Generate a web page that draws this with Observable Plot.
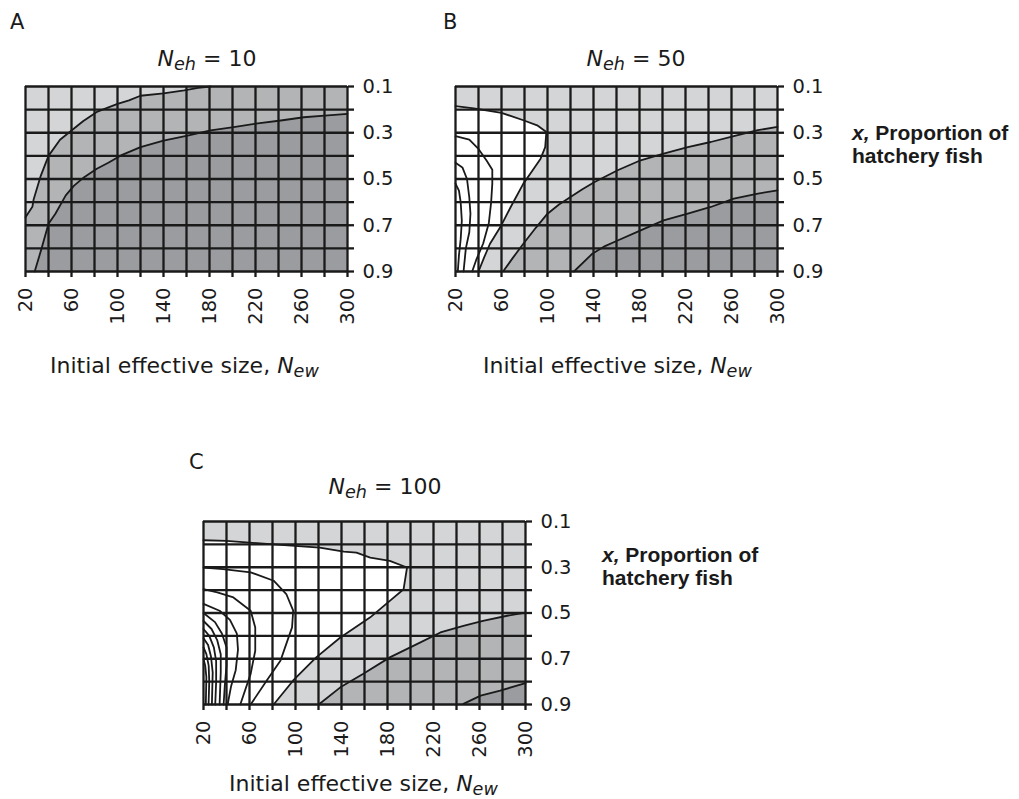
<!DOCTYPE html>
<html><head><meta charset="utf-8">
<script src="https://cdn.jsdelivr.net/npm/d3@7"></script>
<script src="https://cdn.jsdelivr.net/npm/@observablehq/plot@0.6"></script>
<style>
body{margin:0;background:#fff;width:1019px;height:799px;position:relative;overflow:hidden;font-family:"DejaVu Sans",sans-serif;color:#1a1a1a}
.t{position:absolute;white-space:nowrap;line-height:1;z-index:2}
.c{text-align:center}
.p{position:absolute;z-index:1}
.t sub{font-size:0.8em;vertical-align:-0.25em;line-height:0}
.r{font-family:"Liberation Sans",sans-serif;font-weight:bold;font-size:21px}
</style></head><body>
<div id="pa" class="p" style="left:0;top:70px"></div>
<div id="pb" class="p" style="left:430px;top:70px"></div>
<div id="pc" class="p" style="left:178px;top:505px"></div>

<div class="t" style="left:10px;top:12px;font-size:21px">A</div>
<div class="t" style="left:443px;top:12px;font-size:21px">B</div>
<div class="t" style="left:189px;top:452px;font-size:21px">C</div>

<div class="t c" style="left:107px;width:200px;top:48px;font-size:22px"><i>N</i><sub><i>eh</i></sub> = 10</div>
<div class="t c" style="left:536px;width:200px;top:48px;font-size:22px"><i>N</i><sub><i>eh</i></sub> = 50</div>
<div class="t c" style="left:285px;width:200px;top:476px;font-size:22px"><i>N</i><sub><i>eh</i></sub> = 100</div>

<div class="t" style="left:50px;top:355px;font-size:22px">Initial effective size, <i>N</i><sub><i>ew</i></sub></div>
<div class="t" style="left:483px;top:355px;font-size:22px">Initial effective size, <i>N</i><sub><i>ew</i></sub></div>
<div class="t" style="left:229px;top:773px;font-size:22px">Initial effective size, <i>N</i><sub><i>ew</i></sub></div>

<div class="t r" style="left:852px;top:122px"><i>x,</i> Proportion of</div>
<div class="t r" style="left:852px;top:145px">hatchery fish</div>
<div class="t r" style="left:602px;top:544px"><i>x,</i> Proportion of</div>
<div class="t r" style="left:602px;top:567px">hatchery fish</div>

<script>
// Axis ticks and labels
const xTicks = [20,40,60,80,100,120,140,160,180,200,220,240,260,280,300];
const xLabels = [20,60,100,140,180,220,260,300];
const yTicks = [0.1,0.2,0.3,0.4,0.5,0.6,0.7,0.8,0.9];
const yLabels = [0.1,0.3,0.5,0.7,0.9];

// Panel A (Neh = 10) contour lines [New, x]
const aContour1 = [[20,0.665],[26,0.62],[27,0.59],[33,0.49],[40,0.40],[50,0.33],[60,0.29],[70,0.25],[82,0.21],[100,0.175],[110,0.16],[120,0.14],[140,0.13],[158,0.117],[170,0.106],[181,0.1]];
const aContour2 = [[28,0.9],[34,0.8],[40,0.694],[46,0.65],[55,0.571],[62,0.53],[71,0.492],[82,0.456],[92,0.43],[103,0.398],[120,0.362],[140,0.334],[161,0.312],[181,0.29],[201,0.276],[222,0.259],[242,0.247],[262,0.233],[283,0.225],[300,0.218]];

// Panel B (Neh = 50)
const bWhite1 = [[20,0.185],[36,0.195],[60,0.214],[79,0.246],[91,0.268],[99,0.297],[98,0.362],[94,0.412],[85,0.477],[79,0.52],[68,0.621],[59,0.708],[50,0.78],[45,0.838],[40,0.9]];
const bWhite2 = [[20,0.315],[32,0.33],[40,0.37],[47,0.42],[52,0.46],[52,0.52],[51,0.6],[49,0.69],[44,0.78],[38,0.85],[34.5,0.9]];
const bWhite3 = [[20,0.43],[26,0.45],[30,0.5],[32,0.58],[33,0.65],[32,0.73],[29,0.8],[27,0.9]];
const bWhite4 = [[20,0.52],[23,0.55],[24.5,0.6],[25.5,0.68],[24.5,0.76],[23,0.83],[22,0.9]];
const bMid = [[62,0.896],[70,0.84],[79,0.78],[90,0.71],[100,0.65],[110,0.61],[120,0.578],[130,0.545],[141,0.513],[161,0.462],[181,0.419],[201,0.39],[222,0.362],[242,0.34],[262,0.315],[283,0.289],[300,0.275]];
const bDark = [[123,0.9],[139,0.823],[150,0.79],[161,0.766],[181,0.722],[201,0.679],[222,0.65],[242,0.621],[262,0.585],[283,0.563],[300,0.549]];

// Panel C (Neh = 100)
const cWhite1 = [[20,0.182],[40,0.185],[81,0.2],[121,0.214],[142,0.232],[153,0.236],[165,0.258],[182,0.272],[197,0.301],[194,0.396],[182,0.447],[165,0.519],[139,0.607],[118,0.694],[98,0.795],[81,0.9]];
const cWhite2 = [[20,0.301],[37,0.308],[61,0.322],[81,0.359],[92,0.417],[98,0.49],[97,0.563],[92,0.635],[87,0.708],[75,0.795],[61,0.9]];
const cWhite3 = [[20,0.396],[32,0.41],[46,0.432],[61,0.49],[65,0.563],[65,0.665],[61,0.766],[52,0.9]];
const cWhite4 = [[20,0.46],[34,0.49],[43,0.53],[49,0.59],[50,0.66],[48,0.75],[44,0.82],[41,0.9]];
const cWhite5 = [[20,0.5],[30,0.54],[36,0.59],[40,0.65],[40,0.73],[38.5,0.82],[37.5,0.9]];
const cWhite6 = [[20,0.535],[27,0.57],[32,0.62],[35,0.68],[35,0.76],[34,0.9]];
const cWhite7 = [[20,0.57],[25,0.6],[29,0.65],[31,0.71],[31,0.8],[30.2,0.9]];
const cWhite8 = [[20,0.61],[24,0.64],[26.5,0.69],[28,0.76],[27.3,0.9]];
const cWhite9 = [[20,0.65],[22.5,0.68],[24.5,0.73],[25,0.8],[24.4,0.9]];
const cWhite10 = [[20,0.7],[21.5,0.73],[22.5,0.78],[22,0.9]];
const cMid = [[121,0.897],[139,0.825],[159,0.766],[182,0.694],[206,0.635],[226,0.585],[246,0.556],[263,0.534],[284,0.512],[300,0.498]];
const cDark = [[246,0.897],[261,0.861],[278,0.839],[300,0.807]];

const LIGHT = "#d4d5d7", MID = "#b3b4b6", DARK = "#9b9c9f", WHITE = "#ffffff";
const INK = "#1a1a1a";

function poly(pts, color) {
  return Plot.line(pts, {x: d => d[0], y: d => d[1], fill: color, stroke: "none", curve: "linear"});
}
function contour(pts) {
  return Plot.line(pts, {x: d => d[0], y: d => d[1], stroke: INK, strokeWidth: 1.8, curve: "linear"});
}

function panel(id, frameH, fills, lines) {
  const p = Plot.plot({
    width: 407, height: 16 + frameH + 64,
    marginLeft: 25, marginTop: 16, marginRight: 60, marginBottom: 64,
    x: {domain: [20, 300]},
    y: {domain: [0.1, 0.9], reverse: true},
    style: {fontFamily: "DejaVu Sans", fontSize: "19.5px", background: "transparent", color: INK, overflow: "visible"},
    marks: [
      Plot.frame({fill: LIGHT, stroke: "none"}),
      ...fills.map(([pts, c]) => poly(pts, c)),
      ...lines.map(contour),
      Plot.ruleX(xTicks, {stroke: INK, strokeWidth: 2.3}),
      Plot.ruleY(yTicks, {stroke: INK, strokeWidth: 2.3}),
      Plot.axisX(xTicks, {anchor: "bottom", tickSize: 6, tickPadding: 10, tickRotate: -90, strokeWidth: 2.3, label: null,
        fontSize: 19.5, fontFamily: "DejaVu Sans", color: INK,
        tickFormat: d => xLabels.includes(d) ? String(d) : ""}),
      Plot.axisY(yTicks, {anchor: "right", tickSize: 6, tickPadding: 9, strokeWidth: 2.3, label: null,
        fontSize: 19.5, fontFamily: "DejaVu Sans", color: INK,
        tickFormat: d => yLabels.includes(d) ? d.toFixed(1) : ""})
    ]
  });
  document.getElementById(id).appendChild(p);
}

panel("pa", 185,
  [[[...aContour1, [300,0.1],[300,0.9],[20,0.9]], MID],
   [[...aContour2, [300,0.9]], DARK]],
  [aContour1, aContour2]);

panel("pb", 185,
  [[[...bWhite1, [20,0.9]], WHITE],
   [[...bMid, [300,0.9]], MID],
   [[...bDark, [300,0.9]], DARK]],
  [bWhite1, bWhite2, bWhite3, bWhite4, bMid, bDark]);

panel("pc", 183,
  [[[...cWhite1, [20,0.9]], WHITE],
   [[...cMid, [300,0.9]], MID],
   [[...cDark, [300,0.9]], DARK]],
  [cWhite1, cWhite2, cWhite3, cWhite4, cWhite5, cWhite6, cWhite7, cWhite8, cWhite9, cWhite10, cMid, cDark]);
</script>
</body></html>
